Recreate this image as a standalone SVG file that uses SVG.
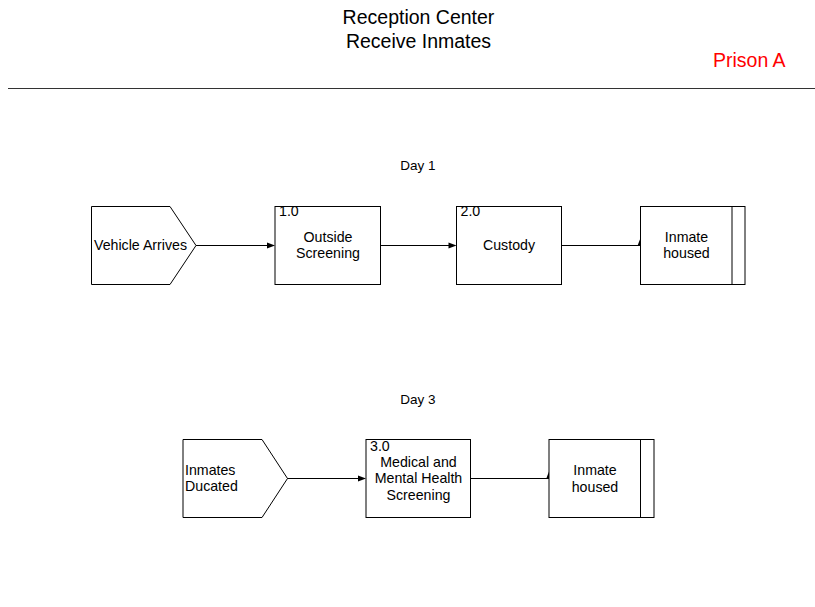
<svg xmlns="http://www.w3.org/2000/svg" width="815" height="607" viewBox="0 0 815 607">
<style>
text{font-family:"Liberation Sans",Arial,sans-serif;fill:#000}
.t{font-size:19.5px}
.n{font-size:14.2px}
.d{font-size:13.5px}
.c{text-anchor:middle}
.s{fill:#fff;stroke:#000;stroke-width:1}
.l{fill:none;stroke:#000;stroke-width:1}
.h{fill:#000;stroke:none}
</style>
<rect width="815" height="607" fill="#fff"/>
<g id="header">
<text class="t c" x="418.5" y="24">Reception Center</text>
<text class="t c" x="418.5" y="47.5">Receive Inmates</text>
<text class="t" x="713" y="67" style="fill:#f00">Prison A</text>
<line x1="8" y1="88.5" x2="815" y2="88.5" stroke="#333" stroke-width="1.2"/>
<text class="d c" x="418" y="170">Day 1</text>
<text class="d c" x="418" y="404">Day 3</text>
</g>
<g id="connectors">
<line class="l" x1="196" y1="245.5" x2="268" y2="245.5"/>
<polygon class="h" points="275,245.5 267,242.5 267,248.5"/>
<line class="l" x1="380.5" y1="245.5" x2="449" y2="245.5"/>
<polygon class="h" points="456.5,245.5 448.5,242.5 448.5,248.5"/>
<line class="l" x1="561.5" y1="245.5" x2="640.5" y2="245.5"/>
<polygon class="h" points="640.5,238 637.8,245 643.2,245"/>
<line class="l" x1="287" y1="478.5" x2="359" y2="478.5"/>
<polygon class="h" points="366,478.5 358,475.5 358,481.5"/>
<line class="l" x1="470.5" y1="478.5" x2="549" y2="478.5"/>
<polygon class="h" points="549,471.5 546.3,478.5 551.7,478.5"/>
</g>
<g id="vehicle-arrives">
<polygon class="s" points="91.5,206.5 170,206.5 196,245.5 170,284.5 91.5,284.5"/>
<text class="n" x="94" y="250">Vehicle Arrives</text>
</g>
<g id="outside-screening">
<rect class="s" x="275" y="206.5" width="105.5" height="78"/>
<text class="n" x="279" y="216">1.0</text>
<text class="n c" x="328" y="241.5">Outside</text>
<text class="n c" x="328" y="258">Screening</text>
</g>
<g id="custody">
<rect class="s" x="456.5" y="206.5" width="105" height="78"/>
<text class="n" x="460.5" y="216">2.0</text>
<text class="n c" x="509" y="250">Custody</text>
</g>
<g id="inmate-housed-1">
<rect class="s" x="640.5" y="206.5" width="104.5" height="78"/>
<line class="l" x1="732" y1="206.5" x2="732" y2="284.5"/>
<text class="n c" x="686.5" y="241.5">Inmate</text>
<text class="n c" x="686.5" y="258">housed</text>
</g>
<g id="inmates-ducated">
<polygon class="s" points="183,439.5 262,439.5 287.5,478.5 262,517.5 183,517.5"/>
<text class="n" x="185" y="475">Inmates</text>
<text class="n" x="185" y="491">Ducated</text>
</g>
<g id="medical-screening">
<rect class="s" x="366" y="439.5" width="104.5" height="78"/>
<text class="n" x="370" y="450.5">3.0</text>
<text class="n c" x="418.5" y="466.5">Medical and</text>
<text class="n c" x="418.5" y="483">Mental Health</text>
<text class="n c" x="418.5" y="499.5">Screening</text>
</g>
<g id="inmate-housed-2">
<rect class="s" x="549" y="439.5" width="105" height="78"/>
<line class="l" x1="640.5" y1="439.5" x2="640.5" y2="517.5"/>
<text class="n c" x="595" y="475">Inmate</text>
<text class="n c" x="595" y="491.5">housed</text>
</g>
</svg>
